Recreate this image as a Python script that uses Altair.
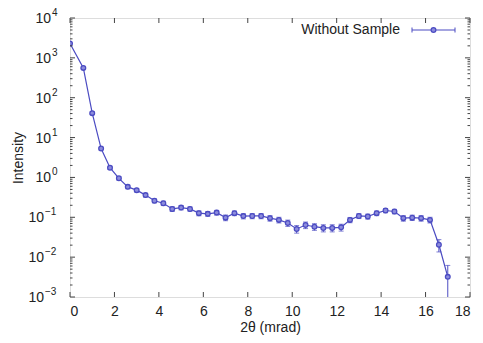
import altair as alt
import pandas as pd

# ---- data ----
THETA = [0.0, 0.6, 1.0, 1.4, 1.8, 2.2, 2.6, 3.0, 3.4, 3.8, 4.2, 4.6, 5.0, 5.4,
         5.8, 6.2, 6.6, 7.0, 7.4, 7.8, 8.2, 8.6, 9.0, 9.4, 9.8, 10.2, 10.6,
         11.0, 11.4, 11.8, 12.2, 12.6, 13.0, 13.4, 13.8, 14.2, 14.6, 15.0,
         15.4, 15.8, 16.2, 16.6, 17.0]
INTENSITY = [2300, 560, 41, 5.3, 1.75, 0.95, 0.58, 0.48, 0.36, 0.26, 0.225,
             0.162, 0.175, 0.162, 0.127, 0.122, 0.131, 0.098, 0.127, 0.107,
             0.108, 0.108, 0.095, 0.086, 0.072, 0.051, 0.064, 0.058, 0.054,
             0.054, 0.056, 0.086, 0.108, 0.105, 0.127, 0.148, 0.14, 0.095,
             0.098, 0.095, 0.086, 0.0205, 0.0032]
ERROR = [60, 20, 3, 0.4, 0.15, 0.09, 0.06, 0.05, 0.04, 0.03, 0.028, 0.022,
         0.022, 0.02, 0.018, 0.017, 0.018, 0.016, 0.017, 0.016, 0.016, 0.016,
         0.015, 0.014, 0.013, 0.011, 0.012, 0.011, 0.011, 0.011, 0.011, 0.013,
         0.015, 0.015, 0.017, 0.018, 0.018, 0.015, 0.015, 0.015, 0.014, 0.007,
         0.003]
SERIES = "Without Sample"
X_TICKS = [0, 2, 4, 6, 8, 10, 12, 14, 16, 18]
Y_EXP = [-3, -2, -1, 0, 1, 2, 3, 4]
Y_SUP = ["\u22123", "\u22122", "\u22121", "0", "1", "2", "3", "4"]
X_TITLE = "2\u03b8 (mrad)"
Y_TITLE = "Intensity"

W, H = 400, 279
C = "#4b4bc2"
FONT = "Liberation Sans"
TXT = "#222222"

df = pd.DataFrame({"x": THETA, "y": INTENSITY, "e": ERROR})
df["lo"] = df["y"] - df["e"]
df["hi"] = df["y"] + df["e"]

xs = alt.Scale(domain=[0, 18], nice=False, zero=False)
ys = alt.Scale(type="log", domain=[1e-3, 1e4], nice=False)

xaxis = alt.Axis(values=X_TICKS, format="d", ticks=False, domain=False, grid=False,
                 labelPadding=7, labelFontSize=14, labelFont=FONT, labelColor=TXT,
                 title=X_TITLE, titleFont=FONT, titleFontSize=14, titleFontWeight="normal",
                 titleColor=TXT, titleX=W / 2, titleY=30, titleBaseline="middle")
yaxis = alt.Axis(labels=False, ticks=False, domain=False, grid=False,
                 title=Y_TITLE, titleFont=FONT, titleFontSize=14, titleFontWeight="normal",
                 titleColor=TXT, titleX=-52, titleY=H / 2, titleAngle=-90,
                 titleBaseline="middle", titleAlign="center")


def X(field):
    return alt.X(field, scale=xs, axis=xaxis)


def Y(field):
    return alt.Y(field, scale=ys, axis=yaxis)


base = alt.Chart(df)
line = base.mark_line(color=C, strokeWidth=1.2, clip=True).encode(x=X("x:Q"), y=Y("y:Q"))
bars = base.mark_rule(color=C, strokeWidth=1, clip=True).encode(
    x=X("x:Q"), y=Y("lo:Q"), y2="hi:Q")
cap_lo = base.mark_tick(color=C, orient="horizontal", size=5, thickness=1, clip=True).encode(
    x=X("x:Q"), y=Y("lo:Q"))
cap_hi = base.mark_tick(color=C, orient="horizontal", size=5, thickness=1, clip=True).encode(
    x=X("x:Q"), y=Y("hi:Q"))
pts = base.mark_point(shape="circle", stroke=C, fill="#8c8cdc", strokeWidth=1.3,
                      size=22, opacity=1, clip=True).encode(x=X("x:Q"), y=Y("y:Q"))

# ---- inward frame ticks ----
xt = pd.DataFrame({"x": X_TICKS})
yt = pd.DataFrame({"y": [10.0 ** e for e in Y_EXP], "sup": Y_SUP})
ym = pd.DataFrame({"y": [m * 10.0 ** e for e in Y_EXP[:-1] for m in range(2, 10)]})

TC = "#444444"
tick_layers = [
    alt.Chart(xt).mark_rule(color=TC, strokeWidth=1).encode(
        x=X("x:Q"), y=alt.value(H), y2=alt.value(H - 5)),
    alt.Chart(xt).mark_rule(color=TC, strokeWidth=1).encode(
        x=X("x:Q"), y=alt.value(0), y2=alt.value(5)),
    alt.Chart(yt).mark_rule(color=TC, strokeWidth=1).encode(
        y=Y("y:Q"), x=alt.value(0), x2=alt.value(5)),
    alt.Chart(yt).mark_rule(color=TC, strokeWidth=1).encode(
        y=Y("y:Q"), x=alt.value(W - 5), x2=alt.value(W)),
    alt.Chart(ym).mark_rule(color=TC, strokeWidth=1).encode(
        y=Y("y:Q"), x=alt.value(0), x2=alt.value(2.5)),
    alt.Chart(ym).mark_rule(color=TC, strokeWidth=1).encode(
        y=Y("y:Q"), x=alt.value(W - 2.5), x2=alt.value(W)),
]

# ---- y tick labels 10^n ----
ylab = alt.Chart(yt)
pos = ylab.transform_filter("datum.y >= 1")
neg = ylab.transform_filter("datum.y < 1")
label_layers = []
for part, xr in ((pos, -19), (neg, -26)):
    label_layers.append(part.mark_text(align="right", baseline="middle", fontSize=14,
                                       font=FONT, color=TXT, dy=1).encode(
        y=Y("y:Q"), x=alt.value(xr), text=alt.value("10")))
    label_layers.append(part.mark_text(align="left", baseline="middle", fontSize=10,
                                       font=FONT, color=TXT, dx=1, dy=-5).encode(
        y=Y("y:Q"), x=alt.value(xr), text="sup:N"))

# ---- legend ----
leg = alt.Chart(pd.DataFrame({"label": [SERIES]}))
LY = 12
legend_layers = [
    leg.mark_text(align="right", baseline="middle", fontSize=14, font=FONT, color=TXT).encode(
        x=alt.value(330), y=alt.value(LY), text="label:N"),
    leg.mark_rule(color=C, strokeWidth=1).encode(
        x=alt.value(342), x2=alt.value(385), y=alt.value(LY)),
    leg.mark_rule(color=C, strokeWidth=1).encode(
        x=alt.value(342), y=alt.value(LY - 2.5), y2=alt.value(LY + 2.5)),
    leg.mark_rule(color=C, strokeWidth=1).encode(
        x=alt.value(385), y=alt.value(LY - 2.5), y2=alt.value(LY + 2.5)),
    leg.mark_point(shape="circle", stroke=C, fill="#8c8cdc", strokeWidth=1.3,
                   size=22, opacity=1).encode(x=alt.value(363.5), y=alt.value(LY)),
]

chart = alt.layer(line, bars, cap_lo, cap_hi, pts, *tick_layers, *label_layers,
                  *legend_layers).properties(
    width=W, height=H,
    autosize=alt.AutoSizeParams(type="none"),
    padding={"left": 62, "top": 10, "right": 5, "bottom": 38},
).configure_view(stroke="#444444", strokeWidth=1.2).configure(background="white")

chart.save("out.html", embed_options={"renderer": "svg", "actions": False})
